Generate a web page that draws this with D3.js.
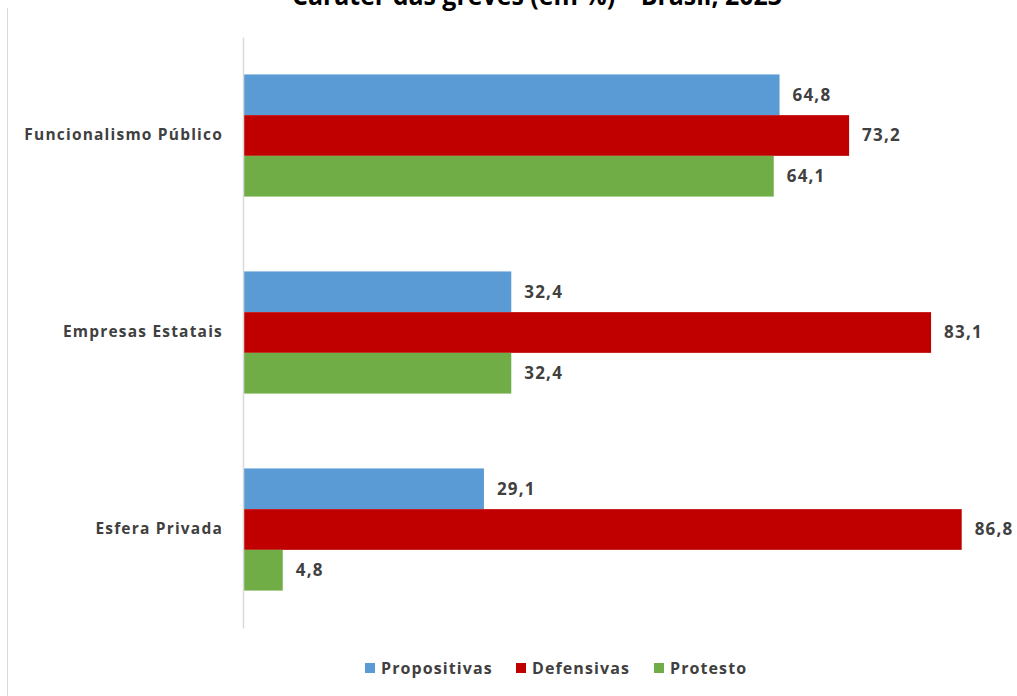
<!DOCTYPE html>
<meta charset="utf-8">
<script src="https://d3js.org/d3.v7.min.js"></script>
<style>
  body { margin: 0; background: #fff; }
  text { font-family: "Open Sans", sans-serif; }
</style>
<div id="chart"></div>
<script>

// data
var categories = ["Funcionalismo Público", "Empresas Estatais", "Esfera Privada"]
var series = ["Propositivas", "Defensivas", "Protesto"]
var propositivas = [64.8, 32.4, 29.1]
var defensivas = [73.2, 83.1, 86.8]
var protesto = [64.1, 32.4, 4.8]
var colors = ["#5b9bd5", "#c00000", "#70ad47"]

var width = 1017, height = 696

var svg = d3.select("#chart").append("svg")
    .attr("width", width)
    .attr("height", height)

// outer frame line on the left
svg.append("line")
    .attr("x1", 7.5).attr("x2", 7.5)
    .attr("y1", 8).attr("y2", height)
    .attr("stroke", "#d9d9d9")

// title (cut at the top like the original)
svg.append("text")
    .attr("x", 537).attr("y", 5)
    .attr("text-anchor", "middle")
    .attr("textLength", 490)
    .attr("lengthAdjust", "spacingAndGlyphs")
    .style("font-weight", "bold")
    .style("font-size", "27px")
    .attr("fill", "#000")
    .text("Caráter das greves (em %) – Brasil, 2023")

var x = d3.scaleLinear().domain([0, 100]).range([243, 1071])

var y = d3.scaleBand()
    .domain(categories)
    .range([37, 628])
    .paddingInner(0.38)
    .paddingOuter(0.19)

var ySub = d3.scaleBand()
    .domain(series)
    .range([0, y.bandwidth()])

var table = categories.map(function(c, i) {
  return { cat: c, values: [propositivas[i], defensivas[i], protesto[i]] }
})

var groups = svg.append("g").selectAll("g")
  .data(table)
  .enter().append("g")
    .attr("transform", function(d) { return "translate(0," + y(d.cat) + ")" })

groups.selectAll("rect")
  .data(function(d) { return d.values.map(function(v, j) { return { s: series[j], v: v, j: j } }) })
  .enter().append("rect")
    .attr("x", x(0))
    .attr("y", function(d) { return ySub(d.s) })
    .attr("width", function(d) { return x(d.v) - x(0) })
    .attr("height", ySub.bandwidth())
    .attr("fill", function(d) { return colors[d.j] })

groups.selectAll(".lbl")
  .data(function(d) { return d.values.map(function(v, j) { return { s: series[j], v: v } }) })
  .enter().append("text")
    .attr("class", "lbl")
    .attr("x", function(d) { return x(d.v) + 13 })
    .attr("y", function(d) { return ySub(d.s) + ySub.bandwidth() / 2 })
    .attr("dy", "0.35em")
    .style("font-size", "17px")
    .style("letter-spacing", "1.2px")
    .style("font-weight", "bold")
    .attr("fill", "#404040")
    .text(function(d) { return d3.format(".1f")(d.v).replace(".", ",") })

// y axis
var yAxis = svg.append("g")
    .attr("transform", "translate(" + x(0) + ",0)")
    .call(d3.axisLeft(y).tickSize(0).tickPadding(20))
yAxis.select(".domain").attr("stroke", "#d9d9d9").attr("stroke-width", 1.5)
yAxis.selectAll("text")
    .style("font-size", "15.5px")
    .style("letter-spacing", "1.2px")
    .style("font-weight", "bold")
    .style("font-family", "'Open Sans', sans-serif")
    .attr("fill", "#404040")

// legend
var legendX = [365, 516, 654]
var legend = svg.append("g").selectAll("g")
  .data(series)
  .enter().append("g")
    .attr("transform", function(d, i) { return "translate(" + legendX[i] + ",668)" })
legend.append("rect")
    .attr("x", 0).attr("y", -5)
    .attr("width", 10).attr("height", 10)
    .attr("fill", function(d, i) { return colors[i] })
legend.append("text")
    .attr("x", 16).attr("dy", "0.35em")
    .style("font-size", "16px")
    .style("letter-spacing", "1.1px")
    .style("font-weight", "bold")
    .attr("fill", "#404040")
    .text(function(d) { return d })

</script>
